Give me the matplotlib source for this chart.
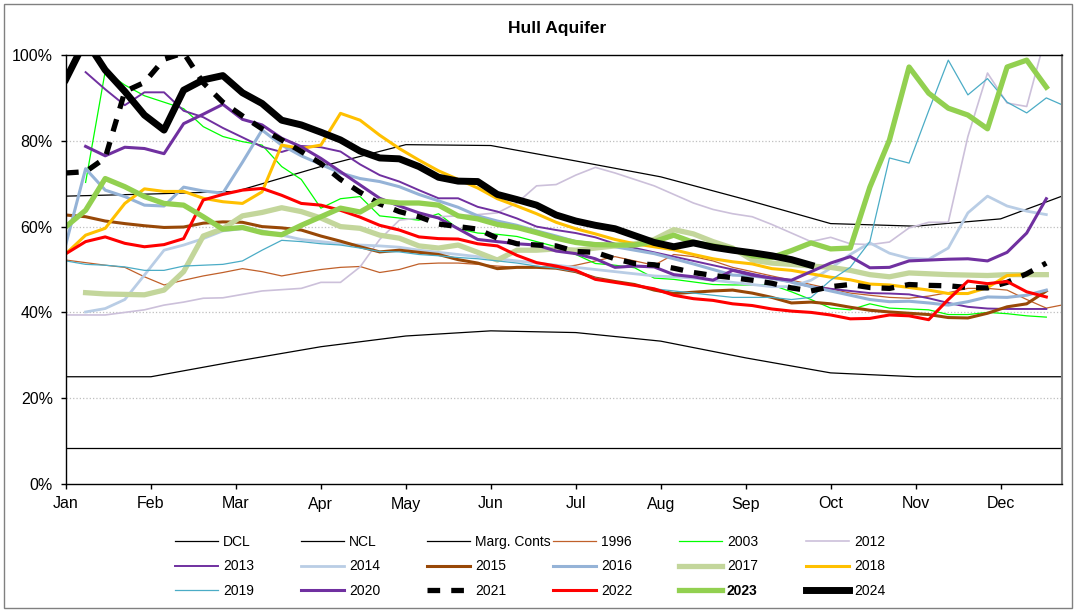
import matplotlib.pyplot as plt
import numpy as np

plt.rcParams['font.family'] = ['Liberation Sans', 'DejaVu Sans']

# x axis runs in weeks from 1 Jan; month ticks are evenly spaced
months = ['Jan', 'Feb', 'Mar', 'Apr', 'May', 'Jun', 'Jul', 'Aug', 'Sep', 'Oct', 'Nov', 'Dec']
x_end = 50.8

# control lines, read at each month start plus the right edge
dcl = [8.3] * 13
ncl = [25, 25, 28.6, 32, 34.5, 35.7, 35.3, 33.3, 29.4, 25.9, 25, 25, 25]
marg_conts = [67.1, 67.6, 68.2, 74, 79.1, 78.9, 75.3, 71.6, 66.3, 60.7, 60.1, 61.8, 67.1]

# weekly levels (%), list index = week number
y1996 = [52.2, 51.6, 51, 50.5, 48.3, 46.4, 47.5, 48.5, 49.3, 50.2, 49.5, 48.5, 49.3, 50, 50.5,
         50.7, 49.3, 50, 51.3, 51.5, 51.5, 51.2, 50.8, 50.5, 50.5, 50.3, 51, 52, 53, 52, 51,
         53.5, 53, 52, 50.5, 49.5, 48.5, 47.5, 46.5, 45.5, 44.5, 44, 43.5, 43.3, 43.8, 44.6,
         45.6, 45.6, 45.2, 43, 41, 41.9]
y2003 = [None, 70.3, 96.2, 93, 90.5, 89, 87.5, 83.3, 81, 79.8, 79, 74, 71, 64.3, 66.5, 67,
         62.5, 62, 61.5, 63, 59.5, 58.5, 58.2, 57.7, 56.5, 55.3, 53.5, 51.4, 51, 50.4, 48,
         47.7, 47.1, 46.5, 46.4, 46.4, 46.4, 44.8, 43, 41, 40.6, 42, 41, 40.8, 40.6, 39.5,
         39.5, 40, 39.7, 39.2, 38.9]
y2012 = [39.4, 39.4, 39.4, 40, 40.6, 41.7, 42.4, 43.3, 43.4, 44.2, 45, 45.3, 45.6, 47, 47,
         50.6, 57, 61.5, 62, 62.3, 62.5, 62.8, 63.2, 65.5, 69.5, 69.8, 72, 73.8, 72.5, 71,
         69.5, 67.5, 65.5, 64, 63, 62.3, 60.5, 58.5, 56.5, 57.5, 56, 55.8, 56.4, 59.7, 61, 61,
         81, 95.8, 88.8, 88, 105]
y2013 = [None, 96, 92, 88.3, 91.3, 91.3, 87, 85.5, 83, 80.8, 78.6, 77.4, 78.8, 78.5, 77.5,
         74.5, 72, 70.5, 68.5, 66.6, 66.6, 64.6, 63.5, 61.9, 60, 59.2, 58.5, 57.5, 56, 55, 54,
         53, 52, 51, 50, 49, 48, 47, 46, 45.5, 45, 44.5, 44.4, 44.2, 43.3, 42.2, 41.3, 40.9,
         40.8, 40.8, 40.8]
y2014 = [None, 40.1, 40.9, 43, 48.7, 54.5, 55.7, 57.2, 59, 59.5, 59, 58, 57, 56.5, 56, 55.7,
         55.5, 55.2, 54.5, 54, 53.5, 53, 52.5, 52, 51.5, 51, 50.5, 50, 49.5, 49, 48.5, 48.3,
         48, 47.5, 47, 46.5, 46, 46, 47.5, 50.3, 53.5, 56.2, 53.8, 52.6, 52.4, 55, 63.2, 67.1,
         64.8, 63.6, 62.8]
y2015 = [62.7, 62.3, 61.3, 60.7, 60.2, 59.8, 59.9, 60.8, 61.1, 61, 60, 59.7, 59.2, 57.8,
         56.6, 55.3, 54.1, 54.5, 54, 53.5, 52.3, 51.5, 50.2, 50.5, 50.5, 50.3, 49.5, 48, 47.2,
         46.5, 45.2, 44.4, 44.7, 45, 45.2, 44.5, 43.5, 42.2, 42.4, 42, 41.2, 40.5, 40.1, 39.8,
         39.5, 38.8, 38.7, 39.8, 41.3, 42, 45]
y2016 = [56, 73.5, 68.5, 67, 65, 64.8, 69.2, 68.3, 67.8, 75, 82.5, 79, 76.5, 74.5, 72.5, 71.2,
         70.5, 69.3, 67.5, 66, 64.5, 62.5, 61.3, 60.3, 59, 57.8, 56.5, 56, 55.3, 54.5, 53.7,
         52.5, 51.3, 50, 48.7, 48.5, 47.9, 47.1, 46, 45, 44, 43, 42.5, 42.6, 42.2, 41.7, 42.5,
         43.6, 43.5, 44, 45.2]
y2017 = [None, 44.6, 44.3, 44.2, 44.1, 45.2, 49.5, 57.8, 59.5, 62.5, 63.3, 64.4, 63.5, 62, 60,
         59.6, 58, 57.3, 55.5, 55, 55.7, 54, 52.2, 54.5, 54.5, 54.8, 54.5, 55, 55.5, 56, 57,
         59.3, 58.3, 56.5, 55, 52.2, 51.5, 51.2, 50.8, 50.5, 49.8, 48.8, 48.3, 49.2, 49, 48.8,
         48.7, 48.6, 48.8, 48.8, 48.8]
y2018 = [53.7, 58, 59.6, 65.4, 68.8, 68.2, 68.2, 66.6, 65.8, 65.4, 68.1, 79, 78.2, 79, 86.4,
         84.8, 81.3, 78.2, 75.5, 73, 71, 69, 66.5, 64.8, 63, 61, 59.5, 58.3, 57, 56, 55.3,
         54.6, 53.5, 52.5, 51.8, 51.3, 50.2, 49.8, 49, 48.2, 47.6, 46.6, 46.4, 45.8, 45.2,
         44.4, 44.4, 45.8, 48.6, 48.8]
y2019 = [52, 51.2, 51, 50.6, 49.8, 49.8, 50.8, 51, 51.2, 52, 54.5, 56.8, 56.5, 56, 55.7, 55,
         54.2, 54.1, 53.5, 53.2, 52.8, 52.5, 52, 51.5, 50.8, 50.3, 49.5, 48, 47, 46.3, 45.5,
         45, 44.5, 44, 43.5, 43.5, 43.5, 43, 43.5, 47.5, 50.5, 56.5, 76, 74.8, 87, 98.8, 90.7,
         94.5, 89, 86.5, 90, 88]
y2020 = [None, 78.7, 76.5, 78.5, 78.2, 77, 84, 86.2, 88.5, 85, 83.7, 80.6, 78.6, 75.9, 72.8,
         69.7, 66.6, 64.8, 63.2, 62, 59.5, 57, 56.5, 56, 55.7, 54.3, 53.7, 52.5, 50.5, 50.8,
         50.6, 48.8, 48.3, 47.5, 49.8, 48.7, 48, 47.5, 49.5, 51.5, 53, 50.4, 50.5, 52, 52.2,
         52.4, 52.5, 52, 54, 58.5, 66.5]
y2021 = [72.5, 72.8, 76, 91.5, 93.6, 99, 100.5, 93.5, 89, 85.8, 82.8, 80.2, 77.5, 74.7, 71,
         68, 65.3, 63.5, 62.3, 60.6, 60, 59.4, 57.3, 56, 55.7, 55.5, 54.2, 54, 52.5, 51.4,
         51.1, 50.3, 49.3, 48.6, 48.1, 47.5, 46.8, 45.7, 45, 46, 46.5, 45.8, 45.6, 46.5, 46.3,
         46.2, 45.8, 45.7, 47, 49, 51.5]
y2022 = [53.7, 56.5, 57.6, 56.1, 55.3, 55.8, 57.2, 66.2, 67.5, 68.5, 68.9, 67.3, 65.4, 65,
         63.8, 62.2, 60.3, 59.2, 57.6, 57.2, 57.1, 56, 55.5, 53.3, 51.6, 50.8, 49.8, 47.7, 47,
         46.3, 45.5, 44, 43.2, 42.8, 42, 41.6, 40.8, 40.3, 40, 39.4, 38.5, 38.6, 39.4, 39.2,
         38.3, 43, 47.3, 46.7, 47.2, 44.8, 43.6]
y2023 = [60, 63.8, 71.2, 69.3, 67, 65.4, 65, 62.3, 59.4, 59.8, 58.6, 58.1, 60.3, 62.3, 64.3,
         63.4, 66, 65.5, 65.5, 65, 62.5, 61.8, 60.5, 59.8, 58.6, 57.3, 56.3, 55.8, 55.7, 55.7,
         56.5, 58, 56.3, 55.5, 54.8, 53.2, 52.8, 54.4, 56.2, 54.8, 55, 69.2, 80.2, 97.2, 91.1,
         87.6, 86, 82.8, 97.2, 98.8, 92.5]
y2024 = [94.4, 103.5, 96.5, 91.5, 86, 82.5, 91.8, 94.2, 95.2, 91.2, 88.7, 84.8, 83.7, 82, 80.2,
         77.6, 76, 75.8, 74, 71.5, 70.6, 70.5, 67.5, 66.3, 65, 62.7, 61.3, 60.3, 59.5, 57.9,
         56.3, 55.3, 56.2, 55.2, 54.5, 53.9, 53.2, 52.3, 51.0]

labels = ['DCL', 'NCL', 'Marg. Conts', '1996', '2003', '2012', '2013', '2014', '2015',
          '2016', '2017', '2018', '2019', '2020', '2021', '2022', '2023', '2024']
series = [dcl, ncl, marg_conts, y1996, y2003, y2012, y2013, y2014, y2015, y2016, y2017,
          y2018, y2019, y2020, y2021, y2022, y2023, y2024]
colors = ['black', 'black', 'black', '#C0602A', '#00FF00', '#CCC0DA', '#7030A0', '#B9CDE5',
          '#984807', '#95B3D7', '#C3D69B', '#FFC000', '#4BACC6', '#7030A0', 'black', '#FF0000',
          '#92D050', 'black']
widths = [0.9, 0.9, 0.9, 0.9, 0.9, 1.2, 1.4, 2.0, 2.2, 2.2, 3.8, 2.2, 0.9, 2.2, 3.8, 2.2, 3.8, 5.0]

fig = plt.figure(figsize=(10.76, 6.12), dpi=100)
ax = fig.add_axes([66 / 1076, 128 / 612, 996 / 1076, 429 / 612])

month_pos = np.arange(12) * 52 / 12
ref_x = list(month_pos) + [x_end]

handles = []
for i, (lab, vals) in enumerate(zip(labels, series)):
    if i < 3:
        x = ref_x
        y = vals
    else:
        y = np.array([np.nan if v is None else v for v in vals], dtype=float)
        x = np.arange(len(y))
    kw = dict(color=colors[i], lw=widths[i], label=lab, solid_joinstyle='round')
    if lab == '2021':
        kw['linestyle'] = (0, (2.4, 2.1))
    h, = ax.plot(x, y, **kw)
    handles.append(h)

ax.set_xlim(0, x_end)
ax.set_ylim(0, 100)
ax.set_xticks(month_pos)
ax.set_xticklabels(months)
ax.set_yticks(range(0, 101, 20))
ax.set_yticklabels([f'{v}%' for v in range(0, 101, 20)])
ax.tick_params(axis='both', labelsize=11.5, length=3.5, width=1, direction='out')
ax.tick_params(axis='y', pad=6)
ax.tick_params(axis='x', pad=5.5)
for v in (20, 40, 60, 80):
    ax.axhline(v, color='#BFBFBF', lw=0.9, ls=':', zorder=0)
for s in ('top', 'left', 'bottom'):
    ax.spines[s].set_linewidth(1)
ax.spines['right'].set_color('#808080')
ax.spines['right'].set_linewidth(1.5)

fig.text(557 / 1076, 1 - 28 / 612, 'Hull Aquifer', ha='center', va='center',
         fontsize=12.5, fontweight='bold')

# legend laid out as 6 evenly spaced columns, like the original
col_x = [175, 301, 427, 553, 679, 806]
for c in range(6):
    idx = [c, c + 6, c + 12]
    leg = fig.legend([handles[k] for k in idx], [labels[k] for k in idx], loc='upper left',
                     bbox_to_anchor=(col_x[c] / 1076, 1 - 535 / 612), frameon=False,
                     borderaxespad=0, borderpad=0, handlelength=3.1, handletextpad=0.35,
                     labelspacing=0.75, fontsize=10)
    for t in leg.get_texts():
        if t.get_text() == '2023':
            t.set_fontweight('bold')

fig.patches.append(plt.Rectangle((4 / 1076, 4 / 612), 1068 / 1076, 604 / 612, fill=False,
                                 edgecolor='#808080', lw=1, transform=fig.transFigure))

fig.savefig('out.png', dpi=100)
